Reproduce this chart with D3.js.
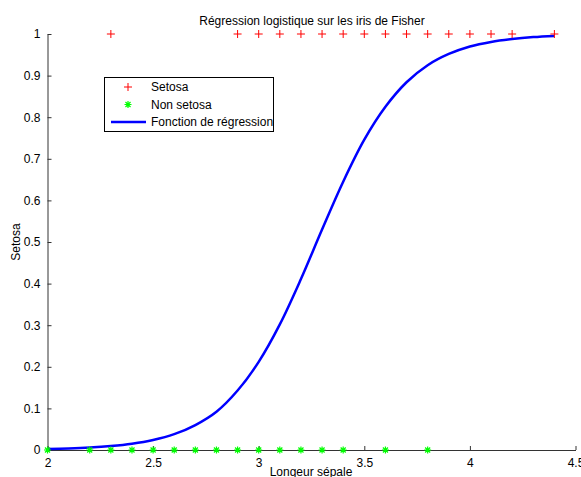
<!DOCTYPE html>
<html><head><meta charset="utf-8">
<script src="https://cdn.jsdelivr.net/npm/d3@7"></script>
<style>body{margin:0;background:#fff}svg{display:block}text{font-family:"Liberation Sans",Arial,sans-serif;fill:#000}</style>
</head><body><svg id="c" width="581" height="477"></svg>
<script>
const setosaX = [2.3, 2.9, 3.0, 3.1, 3.2, 3.3, 3.4, 3.5, 3.6, 3.7, 3.8, 3.9, 4.0, 4.1, 4.2, 4.4];
const setosaY = 1;
const nonSetosaX = [2.0, 2.2, 2.3, 2.4, 2.5, 2.6, 2.7, 2.8, 2.9, 3.0, 3.1, 3.2, 3.3, 3.4, 3.6, 3.8];
const nonSetosaY = 0;
const curveX = [2.0,2.1,2.2,2.3,2.4,2.5,2.6,2.7,2.8,2.9,3.0,3.1,3.2,3.3,3.4,3.5,3.6,3.7,3.8,3.9,4.0,4.1,4.2,4.3,4.4];
const curveY = [0.0023,0.0036,0.0058,0.0094,0.015,0.024,0.038,0.060,0.092,0.143,0.212,0.302,0.411,0.530,0.645,0.746,0.825,0.884,0.925,0.952,0.970,0.981,0.988,0.9926,0.9954];
const xTicks = [2, 2.5, 3, 3.5, 4, 4.5];
const xTickLabels = ["2", "2.5", "3", "3.5", "4", "4.5"];
const yTicks = [0,0.1,0.2,0.3,0.4,0.5,0.6,0.7,0.8,0.9,1];
const yTickLabels = ["0","0.1","0.2","0.3","0.4","0.5","0.6","0.7","0.8","0.9","1"];
const legendLabels = ["Setosa", "Non setosa", "Fonction de régression"];
const title = "Régression logistique sur les iris de Fisher";
const xLabel = "Longeur sépale";
const yLabel = "Setosa";

const svg = d3.select("#c");
const L = 47.5, R = 575.5, T = 34, B = 450;
const x = d3.scaleLinear().domain([2, 4.5]).range([L, R]);
const y = d3.scaleLinear().domain([0, 1]).range([B, T]);
const axCol = "#333";
const fs = 12;

// axes
const xa = svg.append("g").attr("transform", `translate(0,${B})`)
  .call(d3.axisBottom(x).tickValues(xTicks).tickFormat((d,i)=>xTickLabels[i]).tickSizeInner(-4).tickSizeOuter(0).tickPadding(8));
const ya = svg.append("g").attr("transform", `translate(${L},0)`)
  .call(d3.axisLeft(y).tickValues(yTicks).tickFormat((d,i)=>yTickLabels[i]).tickSizeInner(-4).tickSizeOuter(0).tickPadding(7));
[xa, ya].forEach(a => {
  a.select(".domain").attr("stroke", axCol);
  a.selectAll(".tick line").attr("stroke", axCol);
  a.selectAll("text").attr("font-size", fs).attr("font-family", '"Liberation Sans",Arial,sans-serif').attr("fill", "#000");
});

// curve
svg.append("path").datum(curveX.map((v,i)=>[v, curveY[i]]))
  .attr("d", d3.line().x(d=>x(d[0])).y(d=>y(d[1])).curve(d3.curveCatmullRom.alpha(0.5)))
  .attr("fill", "none").attr("stroke", "#0000ff").attr("stroke-width", 2.5);

// markers
function plus(g, cx, cy, s) {
  g.append("path").attr("d", `M${cx-s},${cy}H${cx+s}M${cx},${cy-s}V${cy+s}`)
   .attr("stroke", "#ff0000").attr("stroke-width", 1).attr("fill", "none");
}
function star(g, cx, cy, s) {
  const d = s*0.72;
  g.append("path").attr("d", `M${cx-s},${cy}H${cx+s}M${cx},${cy-s}V${cy+s}M${cx-d},${cy-d}L${cx+d},${cy+d}M${cx-d},${cy+d}L${cx+d},${cy-d}`)
   .attr("stroke", "#00ff00").attr("stroke-width", 1.2).attr("fill", "none");
}
const mg = svg.append("g");
setosaX.forEach(v => plus(mg, x(v), y(setosaY), 4));
nonSetosaX.forEach(v => star(mg, x(v), y(nonSetosaY), 3.5));

// title & labels
svg.append("text").attr("x", 312).attr("y", 25).attr("text-anchor", "middle").attr("font-size", fs).text(title);
svg.append("text").attr("x", 311).attr("y", 476).attr("text-anchor", "middle").attr("font-size", fs).text(xLabel);
svg.append("text").attr("transform", "translate(20,242) rotate(-90)").attr("text-anchor", "middle").attr("font-size", fs).text(yLabel);

// legend
const lg = svg.append("g");
lg.append("rect").attr("x", 104.5).attr("y", 77.5).attr("width", 169).attr("height", 54)
  .attr("fill", "#fff").attr("stroke", "#000").attr("stroke-width", 1);
const rows = [87, 104.5, 122];
plus(lg, 128, rows[0], 4);
star(lg, 128, rows[1], 3.5);
lg.append("line").attr("x1", 111).attr("x2", 146).attr("y1", rows[2]).attr("y2", rows[2]).attr("stroke", "#0000ff").attr("stroke-width", 2.5);
legendLabels.forEach((t,i) => lg.append("text").attr("x", 151).attr("y", rows[i]+4).attr("font-size", fs).text(t));
</script></body></html>
